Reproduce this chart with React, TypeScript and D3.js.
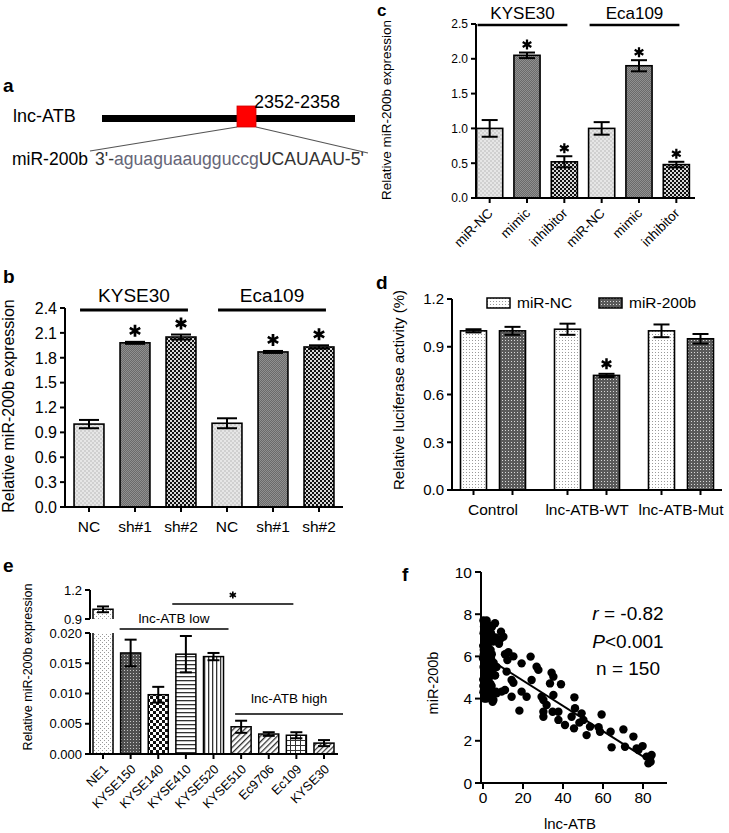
import React from "react";
import * as d3 from "d3";

const FONT = "'Liberation Sans', Arial, Helvetica, sans-serif";

// ---------- panel a ----------
const aGene = "lnc-ATB";
const aSite = "2352-2358";
const aMiR = "miR-200b";
const aSeqLower = "aguaguaaugguccg";
const aSeqUpper = "UCAUAAU";

// ---------- panel b ----------
const bCategories = ["NC", "sh#1", "sh#2", "NC", "sh#1", "sh#2"];
const bValues = [1.0, 1.98, 2.05, 1.01, 1.87, 1.93];
const bErrors = [0.05, 0.012, 0.03, 0.06, 0.012, 0.02];
const bStars = [false, true, true, false, true, true];
const bGroups = ["KYSE30", "Eca109"];
const bTicks = [0, 0.3, 0.6, 0.9, 1.2, 1.5, 1.8, 2.1, 2.4];

// ---------- panel c ----------
const cCategories = ["miR-NC", "mimic", "inhibitor", "miR-NC", "mimic", "inhibitor"];
const cValues = [1.0, 2.05, 0.52, 1.0, 1.9, 0.48];
const cErrors = [0.12, 0.04, 0.08, 0.09, 0.08, 0.04];
const cStars = [false, true, true, false, true, true];
const cGroups = ["KYSE30", "Eca109"];
const cTicks = [0, 0.5, 1.0, 1.5, 2.0, 2.5];

// ---------- panel d ----------
const dGroups = ["Control", "lnc-ATB-WT", "lnc-ATB-Mut"];
const dSeries = ["miR-NC", "miR-200b"];
const dNC = [1.0, 1.01, 1.0];
const dNCErr = [0.01, 0.035, 0.04];
const d200b = [1.0, 0.72, 0.95];
const d200bErr = [0.025, 0.01, 0.03];
const d200bStars = [false, true, false];
const dTicks = [0, 0.3, 0.6, 0.9, 1.2];

// ---------- panel e ----------
const eCategories = ["NE1", "KYSE150", "KYSE140", "KYSE410", "KYSE520", "KYSE510", "Ec9706", "Ec109", "KYSE30"];
const eValues = [1.0, 0.0167, 0.0098, 0.0165, 0.0161, 0.0045, 0.0033, 0.0031, 0.0018];
const eErrors = [0.03, 0.0022, 0.0013, 0.003, 0.0006, 0.001, 0.0003, 0.0005, 0.0005];
const eLowTicks = [0, 0.005, 0.01, 0.015, 0.02];
const eHighTicks = [0.9, 1.2];

// ---------- panel f ----------
const fPoints: [number, number][] = [
  // dense group near zero
  [0.2, 7.7], [1.0, 7.6], [1.8, 7.7], [0.5, 7.4], [1.4, 7.3], [2.5, 7.5], [3.2, 7.3], [4.5, 7.4],
  [0.3, 7.1], [1.1, 7.0], [2.0, 7.2], [2.8, 6.9], [3.6, 7.0], [0.6, 6.8], [1.5, 6.7], [2.4, 6.6],
  [3.3, 6.7], [4.2, 6.8], [5.0, 6.7], [6.2, 6.9], [0.1, 6.5], [0.9, 6.4], [1.8, 6.3], [2.7, 6.4],
  [3.8, 6.3], [0.4, 6.1], [1.3, 6.0], [2.2, 6.1], [3.0, 6.0], [4.4, 6.1], [0.0, 5.9], [0.8, 5.8],
  [1.6, 5.7], [2.5, 5.8], [3.4, 5.6], [4.0, 5.9], [5.3, 5.7], [0.3, 5.5], [1.2, 5.4], [2.0, 5.5],
  [2.9, 5.3], [3.9, 5.4], [0.6, 5.2], [1.5, 5.1], [2.4, 5.0], [3.3, 5.1], [4.6, 5.2], [6.0, 5.1],
  [0.1, 4.9], [1.0, 4.8], [1.9, 4.7], [2.8, 4.9], [3.7, 4.7], [0.5, 4.6], [1.4, 4.5], [2.3, 4.4],
  [3.2, 4.5], [4.3, 4.6], [0.2, 4.3], [1.1, 4.2], [2.0, 4.1], [2.9, 4.2], [3.6, 4.3], [4.8, 4.2],
  [0.7, 4.0], [1.7, 4.0], [2.6, 4.05], [0.4, 6.3], [1.2, 7.2], [2.1, 6.9], [0.8, 5.0], [1.7, 5.9],
  [3.0, 5.6], [0.2, 4.6], [2.2, 5.3], [1.0, 6.2], [3.5, 6.1], [0.6, 7.5], [4.0, 7.1], [0.9, 4.4],
  [6.5, 4.33], [5.2, 3.93], [4.8, 3.85], [6.8, 5.5], [6.0, 5.1], [6.8, 4.25], [8.5, 6.8], [6.0, 7.57],
  [7.5, 6.7], [8.0, 6.6],
  // spread along the trend
  [9.0, 7.17], [10.2, 6.93], [11.0, 6.1], [12.7, 6.2], [15.2, 6.0], [12.2, 5.83], [11.8, 5.28],
  [14.3, 4.88], [15.2, 4.75], [19.3, 5.67], [23.8, 5.99], [26.8, 5.51], [27.7, 5.36], [24.3, 4.88],
  [34.3, 5.23], [35.2, 5.04], [33.5, 4.72], [39.0, 4.68], [11.0, 4.41], [9.3, 4.33], [14.3, 4.09],
  [19.3, 4.33], [21.8, 4.09], [18.2, 3.43], [29.3, 4.09], [30.2, 3.93], [31.8, 3.7], [35.2, 4.17],
  [34.8, 3.38], [37.7, 3.38], [30.2, 3.38], [30.2, 3.14], [37.7, 2.99], [41.0, 2.75], [45.7, 4.06],
  [46.0, 3.54], [44.3, 3.14], [49.3, 3.3], [50.2, 2.99], [48.2, 2.86], [45.5, 2.59], [51.8, 2.27],
  [53.5, 2.67], [57.8, 2.64], [58.5, 2.43], [59.3, 3.25], [63.8, 2.43], [64.3, 1.69], [70.2, 2.54],
  [71.0, 1.72], [75.2, 2.2], [76.8, 1.64], [79.8, 1.75], [77.7, 1.56], [81.8, 1.25], [83.5, 1.17],
  [84.3, 1.33], [83.8, 1.01], [82.7, 0.93],
];
const fFitStart: [number, number] = [6.5, 5.66];
const fFitEnd: [number, number] = [83.5, 1.05];
const fXTicks = [0, 20, 40, 60, 80];
const fYTicks = [0, 2, 4, 6, 8, 10];

// fill styles
const bFills = ["url(#pLight)", "url(#pDark)", "url(#pCheck)", "url(#pLight)", "url(#pDark)", "url(#pCheck)"];
const dFills = ["url(#pDots)", "url(#pDarkDots)"];
const eFills = ["url(#eNE1)", "url(#eK150)", "url(#eK140)", "url(#eK410)", "url(#eK520)", "url(#eK510)", "url(#eEc9706)", "url(#eEc109)", "url(#eK30)"];

function ErrorBar({ cx, y1, y2, cap }: { cx: number; y1: number; y2: number; cap: number }) {
  return (
    <g stroke="#000" strokeWidth={2}>
      <line x1={cx} x2={cx} y1={y1} y2={y2} />
      <line x1={cx - cap} x2={cx + cap} y1={y1} y2={y1} />
      <line x1={cx - cap} x2={cx + cap} y1={y2} y2={y2} />
    </g>
  );
}

// six-armed asterisk drawn as a path so its size is exact
function Star({ cx, cy, r }: { cx: number; cy: number; r: number }) {
  const dx = r * Math.cos(Math.PI / 6);
  const dy = r * Math.sin(Math.PI / 6);
  const d = `M${cx},${cy - r}V${cy + r}M${cx - dx},${cy - dy}L${cx + dx},${cy + dy}M${cx - dx},${cy + dy}L${cx + dx},${cy - dy}`;
  return <path d={d} stroke="#000" strokeWidth={r * 0.45} strokeLinecap="butt" fill="none" />;
}

function YAxis({
  x, scale, ticks, fmt, fs, len = 5, from, to,
}: {
  x: number; scale: d3.ScaleLinear<number, number>; ticks: number[]; fmt: (n: number) => string;
  fs: number; len?: number; from?: number; to?: number;
}) {
  const [r0, r1] = scale.range();
  return (
    <g>
      <line x1={x} x2={x} y1={from ?? r0} y2={to ?? r1} stroke="#000" strokeWidth={2} />
      {ticks.map((t) => (
        <g key={t}>
          <line x1={x - len} x2={x} y1={scale(t)} y2={scale(t)} stroke="#000" strokeWidth={2} />
          <text x={x - len - 3} y={scale(t)} dy="0.36em" textAnchor="end" fontSize={fs}>
            {fmt(t)}
          </text>
        </g>
      ))}
    </g>
  );
}

function PanelA() {
  return (
    <g>
      <text x={3} y={92} fontSize={19} fontWeight="bold">a</text>
      <text x={13} y={122} fontSize={18}>{aGene}</text>
      <rect x={102} y={115} width={253} height={7} fill="#000" />
      <rect x={237} y={106} width={19} height={21} fill="#f00" stroke="#c00" strokeWidth={0.8} />
      <text x={254} y={108} fontSize={18}>{aSite}</text>
      <line x1={237} y1={127} x2={90} y2={151} stroke="#555" strokeWidth={1.2} />
      <line x1={256} y1={127} x2={368} y2={153} stroke="#555" strokeWidth={1.2} />
      <text x={12} y={165} fontSize={17.5}>{aMiR}</text>
      <text x={95} y={165} fontSize={17.6} fill="#333">
        3'-<tspan fill="#667">{aSeqLower}</tspan>
        {aSeqUpper}-5'
      </text>
    </g>
  );
}

function PanelB() {
  const x = d3.scaleBand<number>().domain(d3.range(bValues.length)).range([66, 342]).paddingInner(0.35).paddingOuter(0.175);
  const y = d3.scaleLinear().domain([0, 2.4]).range([507, 308]);
  const bw = x.bandwidth();
  return (
    <g>
      <text x={3} y={283} fontSize={19} fontWeight="bold">b</text>
      <text transform={`translate(14,406) rotate(-90)`} fontSize={16} textAnchor="middle">
        Relative miR-200b expression
      </text>
      {bValues.map((v, i) => {
        const cx = x(i)! + bw / 2;
        return (
          <g key={i}>
            <rect x={x(i)} y={y(v)} width={bw} height={y(0) - y(v)} fill={bFills[i]} stroke="#000" strokeWidth={1.6} />
            <ErrorBar cx={cx} y1={y(v + bErrors[i])} y2={y(v - bErrors[i])} cap={10} />
            {bStars[i] && <Star cx={cx} cy={y(v + bErrors[i]) - 11} r={6} />}
            <line x1={cx} x2={cx} y1={y(0)} y2={y(0) + 5} stroke="#000" strokeWidth={2} />
            <text x={cx} y={532} fontSize={15.5} textAnchor="middle">{bCategories[i]}</text>
          </g>
        );
      })}
      {bGroups.map((g, gi) => {
        const x0 = x(gi * 3)! + 6;
        const x1 = x(gi * 3 + 2)! + bw - 8;
        return (
          <g key={g}>
            <line x1={x0} x2={x1} y1={310} y2={310} stroke="#000" strokeWidth={3} />
            <text x={(x0 + x1) / 2} y={302} fontSize={19} textAnchor="middle">{g}</text>
          </g>
        );
      })}
      <YAxis x={65} scale={y} ticks={bTicks} fmt={d3.format(".1f")} fs={16} />
      <line x1={65} x2={343} y1={507} y2={507} stroke="#000" strokeWidth={2} />
    </g>
  );
}

function PanelC() {
  const x = d3.scaleBand<number>().domain(d3.range(cValues.length)).range([471, 695]).paddingInner(0.3).paddingOuter(0.15);
  const y = d3.scaleLinear().domain([0, 2.5]).range([198, 24]);
  const bw = x.bandwidth();
  return (
    <g>
      <text x={377} y={16} fontSize={17} fontWeight="bold">c</text>
      <text transform={`translate(391,110) rotate(-90)`} fontSize={13.5} textAnchor="middle">
        Relative miR-200b expression
      </text>
      {cValues.map((v, i) => {
        const cx = x(i)! + bw / 2;
        return (
          <g key={i}>
            <rect x={x(i)} y={y(v)} width={bw} height={y(0) - y(v)} fill={bFills[i]} stroke="#000" strokeWidth={1.6} />
            <ErrorBar cx={cx} y1={y(v + cErrors[i])} y2={y(v - cErrors[i])} cap={8} />
            {cStars[i] && <Star cx={cx} cy={y(v + cErrors[i]) - 8} r={5} />}
            <line x1={cx} x2={cx} y1={y(0)} y2={y(0) + 5} stroke="#000" strokeWidth={2} />
            <text transform={`translate(${cx + 4},214) rotate(-45)`} fontSize={13.5} textAnchor="end">
              {cCategories[i]}
            </text>
          </g>
        );
      })}
      {cGroups.map((g, gi) => {
        const x0 = x(gi * 3)! + 1;
        const x1 = x(gi * 3 + 2)! + bw - 10;
        return (
          <g key={g}>
            <line x1={x0} x2={x1} y1={25} y2={25} stroke="#000" strokeWidth={2.5} />
            <text x={(x0 + x1) / 2} y={19} fontSize={17} textAnchor="middle">{g}</text>
          </g>
        );
      })}
      <YAxis x={476} scale={y} ticks={cTicks} fmt={d3.format(".1f")} fs={12} />
      <line x1={476} x2={695} y1={198} y2={198} stroke="#000" strokeWidth={2} />
    </g>
  );
}

function PanelD() {
  const x0 = d3.scaleBand<string>().domain(dGroups).range([446, 728]);
  const x1 = d3.scaleBand<string>().domain(dSeries).range([8, 86]).paddingInner(1 / 3).paddingOuter(1 / 6);
  const y = d3.scaleLinear().domain([0, 1.2]).range([490, 299]);
  const bw = x1.bandwidth();
  const series = [
    { name: dSeries[0], values: dNC, errs: dNCErr, stars: [false, false, false] },
    { name: dSeries[1], values: d200b, errs: d200bErr, stars: d200bStars },
  ];
  return (
    <g>
      <text x={376} y={289} fontSize={19} fontWeight="bold">d</text>
      <text transform={`translate(404,390) rotate(-90)`} fontSize={15} textAnchor="middle">
        Relative luciferase activity (%)
      </text>
      {dGroups.map((g, gi) => (
        <g key={g}>
          {series.map((s, si) => {
            const bx = x0(g)! + x1(s.name)!;
            const cx = bx + bw / 2;
            const v = s.values[gi];
            const e = s.errs[gi];
            return (
              <g key={s.name}>
                <rect x={bx} y={y(v)} width={bw} height={y(0) - y(v)} fill={dFills[si]} stroke="#000" strokeWidth={1.6} />
                <ErrorBar cx={cx} y1={y(v + e)} y2={y(v - e)} cap={8} />
                {s.stars[gi] && <Star cx={cx} cy={y(v + e) - 10} r={5.5} />}
                <line x1={cx} x2={cx} y1={y(0)} y2={y(0) + 5} stroke="#000" strokeWidth={2} />
              </g>
            );
          })}
          <text x={x0(g)! + x0.bandwidth() / 2} y={515} fontSize={15.5} textAnchor="middle">{g}</text>
        </g>
      ))}
      {dSeries.map((s, si) => {
        const lx = si === 0 ? 487 : 599;
        return (
          <g key={s}>
            <rect x={lx} y={298} width={23} height={10} fill={dFills[si]} stroke="#000" strokeWidth={1.5} />
            <text x={lx + 30} y={308} fontSize={15.5}>{s}</text>
          </g>
        );
      })}
      <YAxis x={452} scale={y} ticks={dTicks} fmt={d3.format(".1f")} fs={15} />
      <line x1={452} x2={722} y1={490} y2={490} stroke="#000" strokeWidth={2} />
    </g>
  );
}

function PanelE() {
  const x = d3.scaleBand<string>().domain(eCategories).range([89.2, 337.8]).paddingInner(0.275).paddingOuter(0.1375);
  const yLo = d3.scaleLinear().domain([0, 0.02]).range([754, 633]);
  const yHi = d3.scaleLinear().domain([0.9, 1.2]).range([619, 590]);
  const bw = x.bandwidth();
  const cxOf = (c: string) => x(c)! + bw / 2;
  const lowL = x("KYSE150")! - 1;
  const lowR = x("KYSE520")! + bw + 5;
  const highL = x("KYSE510")! + 4;
  const starL = x("KYSE140")! + bw + 4;
  const starR = cxOf("Ec109") - 3;
  return (
    <g>
      <text x={3} y={572} fontSize={19} fontWeight="bold">e</text>
      <text transform={`translate(32,667) rotate(-90)`} fontSize={12.5} textAnchor="middle">
        Relative miR-200b expression
      </text>
      {eCategories.map((c, i) => {
        const v = eValues[i];
        const e = eErrors[i];
        const bx = x(c)!;
        const cx = bx + bw / 2;
        const broken = v > 0.02;
        return (
          <g key={c}>
            {broken ? (
              <g>
                <rect x={bx} y={yLo(0.02)} width={bw} height={yLo(0) - yLo(0.02)} fill={eFills[i]} />
                <path d={`M${bx},${yLo(0.02)}V${yLo(0)}H${bx + bw}V${yLo(0.02)}`} fill="none" stroke="#000" strokeWidth={1.5} />
                <rect x={bx} y={yHi(v)} width={bw} height={yHi(0.9) - yHi(v)} fill={eFills[i]} />
                <path d={`M${bx},${yHi(0.9)}V${yHi(v)}H${bx + bw}V${yHi(0.9)}`} fill="none" stroke="#000" strokeWidth={1.5} />
                <ErrorBar cx={cx} y1={yHi(v + e)} y2={yHi(v - e)} cap={6} />
              </g>
            ) : (
              <g>
                <rect x={bx} y={yLo(v)} width={bw} height={yLo(0) - yLo(v)} fill={eFills[i]} stroke="#000" strokeWidth={1.5} />
                <ErrorBar cx={cx} y1={yLo(v + e)} y2={yLo(v - e)} cap={6} />
              </g>
            )}
            <line x1={cx} x2={cx} y1={754} y2={759} stroke="#000" strokeWidth={2} />
            <text transform={`translate(${cx + 6},770) rotate(-45)`} fontSize={12.8} textAnchor="end">{c}</text>
          </g>
        );
      })}
      <YAxis x={90} scale={yLo} ticks={eLowTicks} fmt={d3.format(".3f")} fs={13} />
      <YAxis x={90} scale={yHi} ticks={eHighTicks} fmt={d3.format(".1f")} fs={13} />
      <line x1={90} x2={338} y1={754} y2={754} stroke="#000" strokeWidth={2} />
      <line x1={starL} x2={starR} y1={604} y2={604} stroke="#000" strokeWidth={1.5} />
      <Star cx={(starL + starR) / 2} cy={595} r={3.6} />
      <line x1={lowL} x2={lowR} y1={629} y2={629} stroke="#000" strokeWidth={1.5} />
      <text x={(lowL + lowR) / 2} y={623} fontSize={13.5} textAnchor="middle">lnc-ATB low</text>
      <line x1={highL} x2={343} y1={714} y2={714} stroke="#000" strokeWidth={1.5} />
      <text x={(highL + 343) / 2} y={703} fontSize={13.5} textAnchor="middle">lnc-ATB high</text>
    </g>
  );
}

function PanelF() {
  const x = d3.scaleLinear().domain([-1, 92]).range([481, 667]);
  const y = d3.scaleLinear().domain([0, 10]).range([783, 572]);
  return (
    <g>
      <text x={402} y={581} fontSize={19} fontWeight="bold">f</text>
      <text transform={`translate(438,683) rotate(-90)`} fontSize={14.5} textAnchor="middle">miR-200b</text>
      <text x={570} y={829} fontSize={15} textAnchor="middle">lnc-ATB</text>
      {fPoints.map(([px, py], i) => (
        <circle key={i} cx={x(px)} cy={y(py)} r={4.2} fill="#000" />
      ))}
      <line x1={x(fFitStart[0])} y1={y(fFitStart[1])} x2={x(fFitEnd[0])} y2={y(fFitEnd[1])} stroke="#000" strokeWidth={2} />
      <YAxis x={481} scale={y} ticks={fYTicks} fmt={d3.format("d")} fs={15.5} len={6} />
      <line x1={481} x2={667} y1={783} y2={783} stroke="#000" strokeWidth={2} />
      {fXTicks.map((t) => (
        <g key={t}>
          <line x1={x(t)} x2={x(t)} y1={783} y2={789} stroke="#000" strokeWidth={2} />
          <text x={x(t)} y={803} fontSize={15.5} textAnchor="middle">{t}</text>
        </g>
      ))}
      <text x={628} y={620} fontSize={19} textAnchor="middle">
        <tspan fontStyle="italic">r</tspan> = -0.82
      </text>
      <text x={628} y={648} fontSize={19} textAnchor="middle">
        <tspan fontStyle="italic">P</tspan>{"<0.001"}
      </text>
      <text x={628} y={675} fontSize={19} textAnchor="middle">n = 150</text>
    </g>
  );
}

function Patterns() {
  const u = { patternUnits: "userSpaceOnUse" as const };
  return (
    <defs>
      <pattern id="pLight" width={4} height={4} {...u}>
        <rect width={4} height={4} fill="#d0d0d0" />
        <rect width={2} height={2} fill="#e6e6e6" />
        <rect x={2} y={2} width={2} height={2} fill="#e6e6e6" />
      </pattern>
      <pattern id="pDark" width={2} height={2} {...u}>
        <rect width={2} height={2} fill="#6a6a6a" />
        <rect width={1} height={1} fill="#909090" />
        <rect x={1} y={1} width={1} height={1} fill="#909090" />
      </pattern>
      <pattern id="pCheck" width={4} height={4} {...u}>
        <rect width={4} height={4} fill="#d8d8d8" />
        <rect width={2} height={2} fill="#111" />
        <rect x={2} y={2} width={2} height={2} fill="#111" />
      </pattern>
      <pattern id="pDots" width={3} height={3} {...u}>
        <rect width={3} height={3} fill="#fff" />
        <rect x={1} y={1} width={1} height={1} fill="#9a9a9a" />
      </pattern>
      <pattern id="pDarkDots" width={3} height={3} {...u}>
        <rect width={3} height={3} fill="#5a5a5a" />
        <rect x={1} y={1} width={1} height={1} fill="#d8d8d8" />
      </pattern>
      <pattern id="eNE1" width={4} height={4} {...u}>
        <rect width={4} height={4} fill="#fff" />
        <rect width={1} height={1} fill="#999" />
        <rect x={2} y={2} width={1} height={1} fill="#999" />
      </pattern>
      <pattern id="eK150" width={3} height={3} {...u}>
        <rect width={3} height={3} fill="#505050" />
        <rect x={1} y={1} width={1} height={1} fill="#c8c8c8" />
      </pattern>
      <pattern id="eK140" width={6} height={6} {...u}>
        <rect width={6} height={6} fill="#fff" />
        <rect width={3} height={3} fill="#111" />
        <rect x={3} y={3} width={3} height={3} fill="#111" />
      </pattern>
      <pattern id="eK410" width={4} height={4} {...u}>
        <rect width={4} height={4} fill="#fff" />
        <rect width={4} height={1.3} fill="#333" />
      </pattern>
      <pattern id="eK520" width={4} height={4} {...u}>
        <rect width={4} height={4} fill="#fff" />
        <rect width={1.3} height={4} fill="#333" />
      </pattern>
      <pattern id="eK510" width={4} height={4} patternTransform="rotate(45)" {...u}>
        <rect width={4} height={4} fill="#fff" />
        <rect width={1.3} height={4} fill="#333" />
      </pattern>
      <pattern id="eEc9706" width={4} height={4} patternTransform="rotate(45)" {...u}>
        <rect width={4} height={4} fill="#fff" />
        <rect width={1.3} height={4} fill="#333" />
      </pattern>
      <pattern id="eEc109" width={5} height={5} {...u}>
        <rect width={5} height={5} fill="#fff" />
        <rect width={5} height={1} fill="#333" />
        <rect width={1} height={5} fill="#333" />
      </pattern>
      <pattern id="eK30" width={3.5} height={3.5} patternTransform="rotate(45)" {...u}>
        <rect width={3.5} height={3.5} fill="#fff" />
        <rect width={1.2} height={3.5} fill="#333" />
      </pattern>
    </defs>
  );
}

export default function App() {
  return (
    <svg
      width={729}
      height={833}
      viewBox="0 0 729 833"
      style={{ position: "absolute", left: 0, top: 0, background: "#fff" }}
      fontFamily={FONT}
    >
      <Patterns />
      <rect width={729} height={833} fill="#fff" />
      <PanelA />
      <PanelB />
      <PanelC />
      <PanelD />
      <PanelE />
      <PanelF />
    </svg>
  );
}
